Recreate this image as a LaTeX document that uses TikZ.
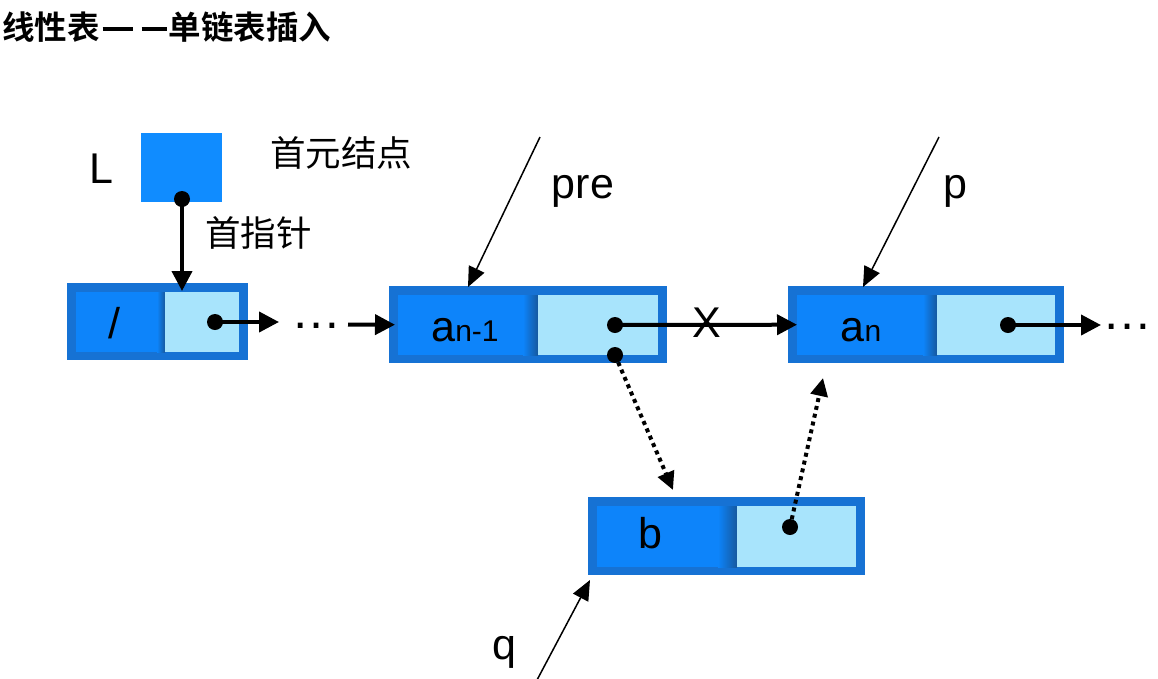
\documentclass[tikz,border=0pt]{standalone}
\usepackage{fontspec}
\setmainfont{Liberation Sans}
\newfontfamily\cjk{Noto Sans CJK SC}[BoldFont={Noto Sans CJK SC Bold}]
\usetikzlibrary{arrows.meta,calc}
\definecolor{outerc}{RGB}{22,114,212}
\definecolor{leftc}{RGB}{13,132,250}
\definecolor{divc}{RGB}{22,88,158}
\definecolor{lightc}{RGB}{168,228,252}
\definecolor{lboxc}{RGB}{16,140,255}
\tikzset{
  outerbox/.style={fill=outerc, inner sep=0pt, anchor=north west},
  lbox/.style={fill=lboxc, inner sep=0pt, anchor=north west},
  lab/.style={font=\fontsize{43}{43}\selectfont, inner sep=0pt, anchor=base},
  zh/.style={font=\cjk\fontsize{35.5}{35.5}\selectfont, inner sep=0pt, anchor=west},
  ptr/.style={circle, fill=black, inner sep=0pt, minimum size=16pt},
  link/.style={line width=4pt, -{Triangle[length=20pt,width=20pt]}},
  newlink/.style={line width=4pt, dash pattern=on 4pt off 4pt, -{Triangle[length=18pt,width=17pt]}},
  ref/.style={line width=1.5pt, -{Triangle[length=20pt,width=17pt]}},
  ell/.style={font=\fontsize{50}{50}\selectfont, inner sep=0pt, anchor=base},
}
% #1 name, #2 x, #3 y, #4 w, #5 h, #6 divider left, #7 divider right
\newcommand\listnode[7]{%
  \node[outerbox, minimum width=#4pt, minimum height=#5pt] (#1) at (#2,#3) {};
  \fill[leftc] (#2+9,#3+9) rectangle (#6,#3+#5-8);
  \shade[left color=leftc, right color=divc] (#6,#3+9) rectangle (#7,#3+#5-8);
  \fill[lightc] (#7,#3+9) rectangle (#2+#4-9,#3+#5-8);
}
\newcommand\tdashes{\hspace{3pt}\rule[8pt]{30pt}{4.5pt}\hspace{9pt}\rule[8pt]{25pt}{4.5pt}\hspace{2pt}}
\begin{document}
\begin{tikzpicture}[x=1pt,y=-1pt]
\useasboundingbox (0,0) rectangle (1158,678);
\fill[white] (0,0) rectangle (1158,678);

% title
\node[anchor=west, inner sep=0pt, font=\cjk\bfseries\fontsize{32.5}{32.5}\selectfont] (title) at (2,27) {线性表\tdashes 单链表插入};

% list nodes
\listnode{hd}{67}{283}{181}{77}{157}{165}
\listnode{n2}{389}{286}{278}{77}{523}{538}
\listnode{n3}{788}{286}{276}{77}{923}{937}
\listnode{nb}{588}{497}{277}{78}{718}{737}

\node[lab] (hdv) at (114,338) {/};
\node[lab] (n2v) at (465,341) {a{\fontsize{30}{30}\selectfont n-1}};
\node[lab] (n3v) at (861,341) {a{\fontsize{30}{30}\selectfont n}};
\node[lab] (nbv) at (650,548) {b};

% head pointer L
\node[lbox, minimum width=81pt, minimum height=69pt] (L) at (141,133) {};
\node[lab] (Llab) at (101,183) {L};
\node[zh] (first) at (270,153) {首元结点};
\node[zh] (headptr) at (205,233) {首指针};

% pointer dots
\node[ptr] (Lp) at (182,199) {};
\node[ptr] (hdp) at (215,322) {};
\node[ptr] (n2p) at (615,325) {};
\node[ptr] (n2q) at (615,355) {};
\node[ptr] (n3p) at (1008,325) {};
\node[ptr] (bp) at (790,527) {};

% ellipses
\node[ell] (e1) at (316,328) {…};
\node[ell] (e2) at (1127,329) {…};

% links
\coordinate (hdin) at (182,291);
\draw[link] (Lp.center) -- (hdin);
\coordinate (e1in) at (279,322);
\draw[link] (hdp.center) -- (e1in);
\coordinate (e1out) at (348,324.5);
\draw[link] (e1out) -- ([xshift=6pt]n2.west);
\draw[link] (n2p.center) -- ([xshift=9pt]n3.west);
\node[lab] (cut) at (707,337) {X};
\coordinate (e2in) at (1101,325);
\draw[link] (n3p.center) -- (e2in);

% new links (dotted)
\coordinate (bin) at (673,490);
\draw[newlink] (n2q.center) -- (bin);
\coordinate (n3in) at (823,378);
\draw[newlink] (bp.center) -- (n3in);

% reference pointers
\coordinate (preS) at (540,137);
\coordinate (preE) at (468,287);
\draw[ref] (preS) -- (preE);
\node[lab] (prelab) at (583,198) {pre};
\coordinate (pS) at (939,137);
\coordinate (pE) at (863,287);
\draw[ref] (pS) -- (pE);
\node[lab] (plab) at (955,198) {p};
\coordinate (qS) at (537,680);
\coordinate (qE) at (590,580);
\draw[ref] (qS) -- (qE);
\node[lab] (qlab) at (504,659) {q};
\end{tikzpicture}
\end{document}
